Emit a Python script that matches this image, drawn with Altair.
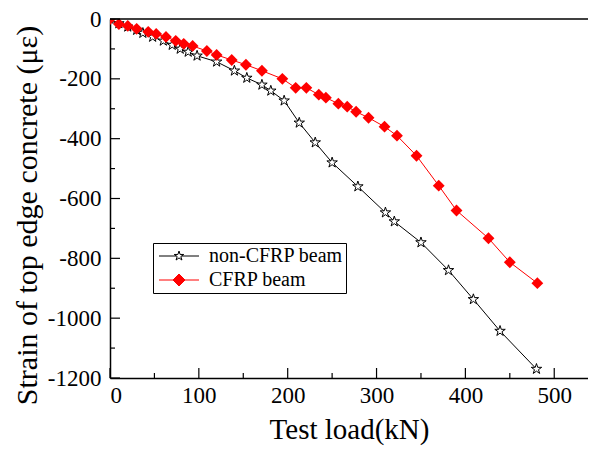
import altair as alt
import pandas as pd

# ---- data ----
names = ["non-CFRP beam", "CFRP beam"]

non_load = [0, 10, 20, 30, 37, 48, 60, 70, 79, 88, 98, 120, 140, 154, 171, 181, 196,
            213, 231, 250, 279, 310, 320, 350, 381, 409, 439, 480]
non_strain = [0, -15, -26, -37, -47, -60, -73, -87, -100, -110, -123, -143, -173, -197,
              -220, -240, -273, -347, -413, -480, -560, -647, -677, -747, -840, -937,
              -1043, -1170]

cf_load = [0, 10, 20, 30, 43, 52, 63, 74, 83, 93, 109, 120, 137, 153, 171, 194, 209,
           221, 235, 243, 257, 267, 277, 291, 309, 323, 345, 370, 390, 426, 450, 481]
cf_strain = [0, -17, -23, -33, -43, -50, -60, -73, -83, -90, -107, -120, -137, -153,
             -173, -200, -230, -230, -253, -263, -283, -293, -310, -330, -360, -390,
             -457, -557, -640, -733, -813, -883]

x_ticks = [0, 100, 200, 300, 400, 500]
x_minor = [50, 150, 250, 350, 450]
y_ticks = [-1200, -1000, -800, -600, -400, -200, 0]
y_minor = [-1100, -900, -700, -500, -300, -100]

W, H = 478, 359
FONT = "'Times New Roman', 'Liberation Serif', serif"

non_df = pd.DataFrame({"load": non_load, "strain": non_strain})
cf_df = pd.DataFrame({"load": cf_load, "strain": cf_strain})

xscale = alt.Scale(domain=[0, 538], nice=False, zero=False)
yscale = alt.Scale(domain=[-1200, 0], nice=False, zero=False)

STAR = ("M0,-1L0.2245,-0.309L0.951,-0.309L0.363,0.118L0.588,0.809L0,0.382"
        "L-0.588,0.809L-0.363,0.118L-0.951,-0.309L-0.2245,-0.309Z")


def star_at(cx):
    pts = [(0, -1), (0.2245, -0.309), (0.951, -0.309), (0.363, 0.118), (0.588, 0.809),
           (0, 0.382), (-0.588, 0.809), (-0.363, 0.118), (-0.951, -0.309), (-0.2245, -0.309)]
    return "M" + "L".join(f"{x + cx:.4f},{y:.4f}" for x, y in pts) + "Z"


SO = 2.6   # symbol offset (units of 5px) inside the legend glyph
LEG_STAR = f"M{SO-4:.2f},0L{SO-0.53:.2f},0M{SO+0.53:.2f},0L{SO+4:.2f},0" + star_at(SO)
LEG_DIAMOND = (f"M{SO-4:.2f},0L{SO+4:.2f},0M{SO-1.2:.2f},0L{SO:.2f},-1.2"
               f"L{SO+1.2:.2f},0L{SO:.2f},1.2Z")

xaxis = alt.Axis(values=x_ticks, ticks=False, grid=False, domainColor="black",
                 domainWidth=1.5, labelFont=FONT, labelFontSize=23, labelColor="black",
                 labelPadding=6, labelExpr="toString(datum.value)",
                 title="Test load(kN)", titleFont=FONT, titleFontSize=29,
                 titleFontWeight="normal", titleColor="black", titlePadding=8)
yaxis = alt.Axis(values=y_ticks, ticks=False, grid=False, domainColor="black",
                 domainWidth=1.5, labelFont=FONT, labelFontSize=23, labelColor="black",
                 labelPadding=9, labelExpr="toString(datum.value)",
                 title="Strain of top edge concrete (\u03bc\u03b5)", titleFont=FONT,
                 titleFontSize=30, titleFontWeight="normal", titleColor="black",
                 titlePadding=5, titleY=196)

X = alt.X("load:Q", scale=xscale, axis=xaxis)
Y = alt.Y("strain:Q", scale=yscale, axis=yaxis)

non_line = alt.Chart(non_df).mark_line(color="black", strokeWidth=1, clip=True).encode(x=X, y=Y)
cf_line = alt.Chart(cf_df).mark_line(color="#ff0000", strokeWidth=1, clip=True).encode(x=X, y=Y)

non_pts = alt.Chart(non_df).mark_point(shape=STAR, size=121, filled=True, fill="white",
                                       stroke="black", strokeWidth=1, opacity=1,
                                       clip=True).encode(x=X, y=Y)
cf_pts = alt.Chart(cf_df).mark_point(shape="diamond", size=140, filled=True,
                                     color="#ff0000", opacity=1, clip=True).encode(x=X, y=Y)

legend = alt.Legend(title=None, orient="none", legendX=43, legendY=224,
                    strokeColor="black", fillColor="white", padding=3,
                    labelFont=FONT, labelFontSize=20, labelColor="black",
                    symbolSize=100, symbolStrokeWidth=1, labelOffset=33, rowPadding=4)
leg_df = pd.DataFrame({"series": names})
leg_layer = alt.Chart(leg_df).mark_point(filled=True, opacity=1).encode(
    shape=alt.Shape("series:N", scale=alt.Scale(domain=names, range=[LEG_STAR, LEG_DIAMOND]),
                    legend=legend),
    fill=alt.Fill("series:N", scale=alt.Scale(domain=names, range=["white", "#ff0000"]),
                  legend=legend),
    stroke=alt.Stroke("series:N", scale=alt.Scale(domain=names, range=["black", "#ff0000"]),
                      legend=legend),
).transform_filter("false")

# inward ticks
XT = alt.X("load:Q", scale=xscale, axis=xaxis)
YT = alt.Y("strain:Q", scale=yscale, axis=yaxis)
ytick_major = alt.Chart(pd.DataFrame({"strain": y_ticks})).mark_rule(color="black", strokeWidth=1.2).encode(
    y=YT, x=alt.value(0), x2=alt.value(10))
ytick_minor = alt.Chart(pd.DataFrame({"strain": y_minor})).mark_rule(color="black", strokeWidth=1.2).encode(
    y=YT, x=alt.value(0), x2=alt.value(5))
xtick_major = alt.Chart(pd.DataFrame({"load": x_ticks})).mark_rule(color="black", strokeWidth=1.2).encode(
    x=XT, y=alt.value(H), y2=alt.value(H - 10))
xtick_minor = alt.Chart(pd.DataFrame({"load": x_minor})).mark_rule(color="black", strokeWidth=1.2).encode(
    x=XT, y=alt.value(H), y2=alt.value(H - 5))
top_border = alt.Chart(pd.DataFrame({"v": [0]})).mark_rule(color="black", strokeWidth=1.5).encode(
    x=alt.value(0), x2=alt.value(W), y=alt.value(0))

chart = alt.layer(
    non_line, cf_line, non_pts, cf_pts, leg_layer,
    ytick_major, ytick_minor, xtick_major, xtick_minor, top_border,
).properties(
    width=W, height=H,
    autosize=alt.AutoSizeParams(type="none"),
    padding={"left": 102, "top": 11, "right": 0, "bottom": 69},
    background="white",
).configure_view(stroke=None).configure_legend(
    labelFont=FONT, labelFontSize=20, labelColor="black"
).configure_axis(labelFont=FONT, titleFont=FONT)

chart.save("out.html", embed_options={"renderer": "svg", "actions": False})
